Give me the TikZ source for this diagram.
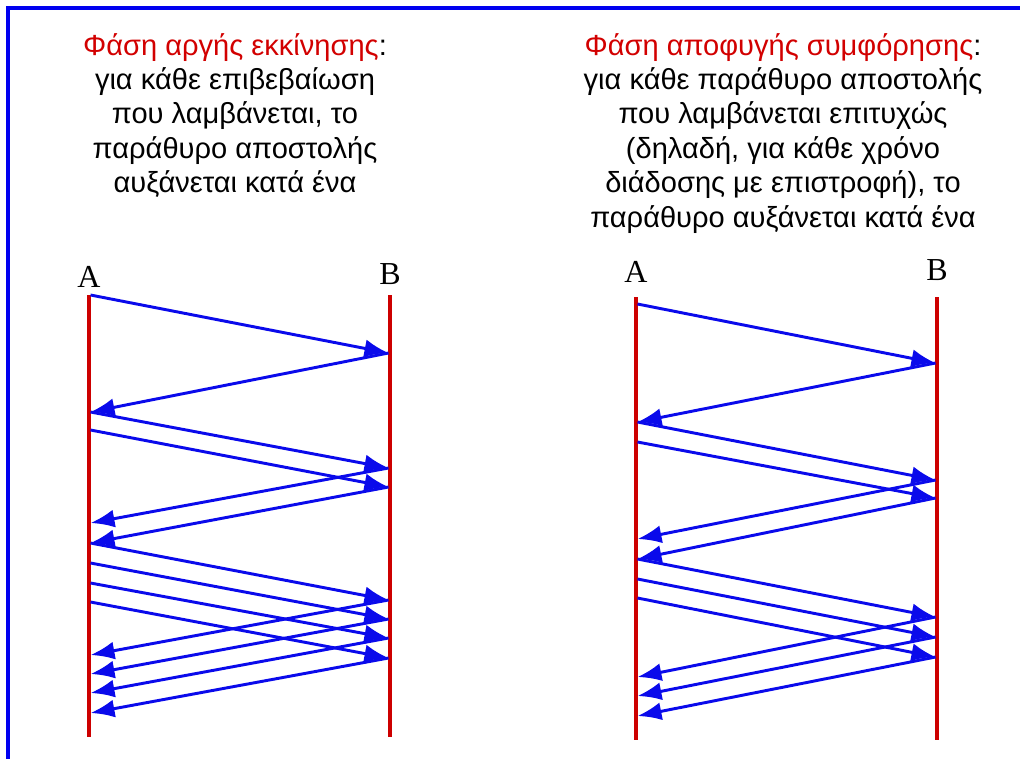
\documentclass[tikz,border=0pt]{standalone}
\usepackage{fontspec}
\setmainfont{Liberation Sans}
\newfontfamily\labfont{Liberation Serif}
\usetikzlibrary{arrows.meta}
\definecolor{frameblue}{RGB}{0,0,240}
\definecolor{msgblue}{RGB}{10,10,235}
\definecolor{linered}{RGB}{205,0,0}
\definecolor{titlered}{RGB}{210,0,0}
\tikzset{
  framestyle/.style={draw=frameblue, line width=2.6pt},
  timeline/.style={draw=linered, line width=3pt},
  msg/.style={draw=msgblue, line width=2.2pt, -{Latex[length=18pt,width=13.5pt]}},
  caption/.style={align=center, font=\fontsize{21.8pt}{25.8pt}\selectfont, inner sep=0pt, anchor=north},
  endlabel/.style={font=\labfont\fontsize{24pt}{26pt}\selectfont, inner sep=0pt, anchor=base}
}
\begin{document}
\begin{tikzpicture}[x=0.75pt,y=-0.75pt]
\useasboundingbox (0,0) rectangle (1020,758);
% frame
\coordinate (fTL) at (8,8);
\coordinate (fTR) at (1022,8);
\coordinate (fBL) at (8,760);
\draw[framestyle] (fBL) -- (fTL) -- (fTR);

% captions
\node[caption] (capL) at (235,33) {\textcolor{titlered}{Φάση αργής εκκίνησης}:\\για κάθε επιβεβαίωση\\που λαμβάνεται, το\\παράθυρο αποστολής\\αυξάνεται κατά ένα};
\node[caption] (capR) at (783,33) {\textcolor{titlered}{Φάση αποφυγής συμφόρησης}:\\για κάθε παράθυρο αποστολής\\που λαμβάνεται επιτυχώς\\(δηλαδή, για κάθε χρόνο\\διάδοσης με επιστροφή), το\\παράθυρο αυξάνεται κατά ένα};

% ---------- left diagram ----------
\node[endlabel] (LAlab) at (89,287) {A};
\node[endlabel] (LBlab) at (390,284) {B};
\coordinate (LAtop) at (89,295); \coordinate (LAbot) at (89,737);
\coordinate (LBtop) at (390,295); \coordinate (LBbot) at (390,737);
\draw[timeline] (LAtop) -- (LAbot);
\draw[timeline] (LBtop) -- (LBbot);
\foreach \y in {295,412,430,543,563,583,602,523,655,674,693,713}
  \coordinate (LA\y) at (90.5,\y);
\foreach \y in {353,468,487,600,619,638,658}
  \coordinate (LB\y) at (388.5,\y);
\draw[msg] (LA295) -- (LB353);
\draw[msg] (LB353) -- (LA412);
\draw[msg] (LA412) -- (LB468);
\draw[msg] (LA430) -- (LB487);
\draw[msg] (LB468) -- (LA523);
\draw[msg] (LB487) -- (LA543);
\draw[msg] (LA543) -- (LB600);
\draw[msg] (LA563) -- (LB619);
\draw[msg] (LA583) -- (LB638);
\draw[msg] (LA602) -- (LB658);
\draw[msg] (LB600) -- (LA655);
\draw[msg] (LB619) -- (LA674);
\draw[msg] (LB638) -- (LA693);
\draw[msg] (LB658) -- (LA713);

% ---------- right diagram ----------
\node[endlabel] (RAlab) at (636,282) {A};
\node[endlabel] (RBlab) at (937,280) {B};
\coordinate (RAtop) at (636,297); \coordinate (RAbot) at (636,740);
\coordinate (RBtop) at (937,297); \coordinate (RBbot) at (937,740);
\draw[timeline] (RAtop) -- (RAbot);
\draw[timeline] (RBtop) -- (RBbot);
\foreach \y in {304,422,442,559,579,598,539,677,696,716}
  \coordinate (RA\y) at (637.5,\y);
\foreach \y in {363,480,498,617,637,657}
  \coordinate (RB\y) at (935.5,\y);
\draw[msg] (RA304) -- (RB363);
\draw[msg] (RB363) -- (RA422);
\draw[msg] (RA422) -- (RB480);
\draw[msg] (RA442) -- (RB498);
\draw[msg] (RB480) -- (RA539);
\draw[msg] (RB498) -- (RA559);
\draw[msg] (RA559) -- (RB617);
\draw[msg] (RA579) -- (RB637);
\draw[msg] (RA598) -- (RB657);
\draw[msg] (RB617) -- (RA677);
\draw[msg] (RB637) -- (RA696);
\draw[msg] (RB657) -- (RA716);
\end{tikzpicture}
\end{document}
